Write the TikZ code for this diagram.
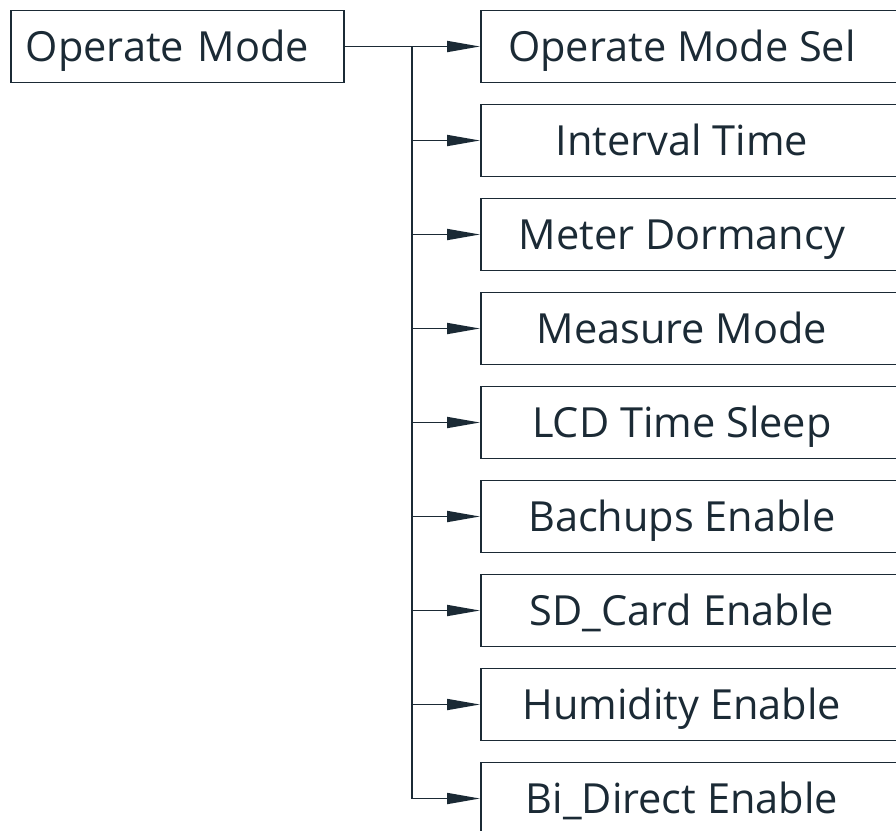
\documentclass[tikz,border=0pt]{standalone}
\usepackage{fontspec}
\setmainfont{Open Sans}
\usetikzlibrary{arrows.meta}
\definecolor{ink}{HTML}{1B2A35}
\newcommand{\rlab}[1]{\makebox[402pt]{#1}\hspace*{40pt}}
\begin{document}
\begin{tikzpicture}[x=1pt,y=-1pt,
  basebox/.style={draw=ink, line width=1.8pt, minimum height=72pt, inner ysep=0pt, text height=30pt, text depth=0pt, anchor=west, text=ink, font=\fontsize{41.5}{50}\selectfont},
  leftbox/.style={basebox, inner xsep=15pt, text width=303pt, align=left},
  rightbox/.style={basebox, inner xsep=0pt},
  wire/.style={draw=ink, line width=1.8pt},
  arr/.style={wire, -{Triangle[length=33pt,width=11pt]}}]
\useasboundingbox (0,0) rectangle (896,830);
\clip (0,0) rectangle (896,830);
\node[leftbox] (om) at (10,46.5) {Operate Mode};
\node[rightbox] (b1) at (480,46.5) {\rlab{Operate Mode Sel}};
\node[rightbox] (b2) at (480,140.5) {\rlab{Interval Time}};
\node[rightbox] (b3) at (480,234.5) {\rlab{Meter Dormancy}};
\node[rightbox] (b4) at (480,328.5) {\rlab{Measure Mode}};
\node[rightbox] (b5) at (480,422.5) {\rlab{LCD Time Sleep}};
\node[rightbox] (b6) at (480,516.5) {\rlab{Bachups Enable}};
\node[rightbox] (b7) at (480,610.5) {\rlab{SD\_Card Enable}};
\node[rightbox] (b8) at (480,704.5) {\rlab{Humidity Enable}};
\node[rightbox] (b9) at (480,798.5) {\rlab{Bi\_Direct Enable}};
\coordinate (j) at (412,46.5);
\draw[arr] (om.east) -- (b1.west);
\draw[arr] (j) |- (b9.west);
\foreach \k in {2,...,8} {\draw[arr] (j |- b\k.west) -- (b\k.west);}
\end{tikzpicture}
\end{document}
